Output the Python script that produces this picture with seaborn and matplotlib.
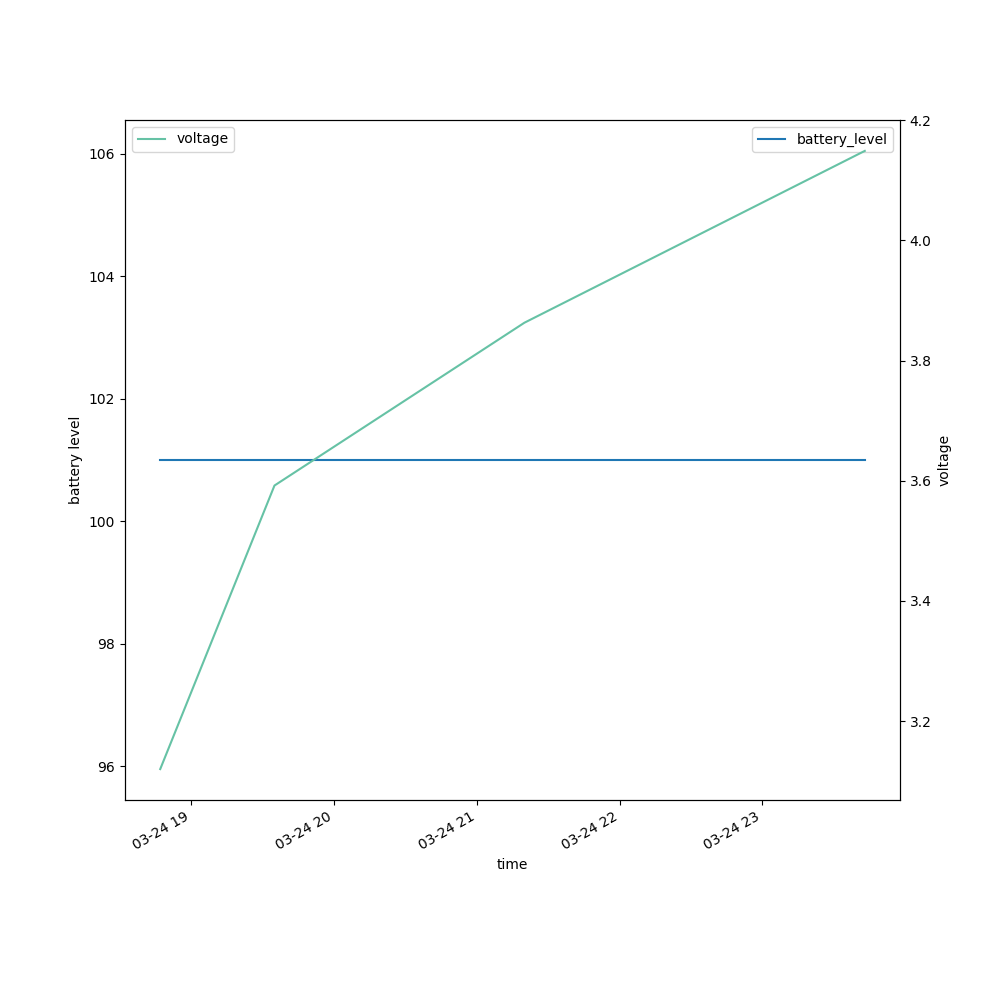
import pandas as pd
import matplotlib
matplotlib.use("Agg")
import matplotlib.pyplot as plt
import matplotlib.dates as mdates
import seaborn as sns

# readings
times = ["2024-03-24 18:47", "2024-03-24 19:35", "2024-03-24 21:20", "2024-03-24 23:43"]
voltage = [3.12, 3.592, 3.863, 4.149]
battery_level = [101, 101, 101, 101]

df = pd.DataFrame({
    "time": pd.to_datetime(times),
    "voltage": voltage,
    "battery_level": battery_level,
})

fig, ax = plt.subplots(figsize=(10, 10), dpi=100)
sns.lineplot(data=df, x="time", y="battery_level", ax=ax,
             color="#1f77b4", label="battery_level")
ax.set_ylabel("battery level")

ax2 = ax.twinx()
sns.lineplot(data=df, x="time", y="voltage", ax=ax2,
             color="#66c2a5", label="voltage")
ax2.set_ylabel("voltage")

ax.legend(loc="upper right")
ax2.legend(loc="upper left")

ax.xaxis.set_major_formatter(mdates.DateFormatter("%m-%d %H"))
ax.set_xlabel("time")
fig.autofmt_xdate()

fig.savefig("out.png", dpi=100)
